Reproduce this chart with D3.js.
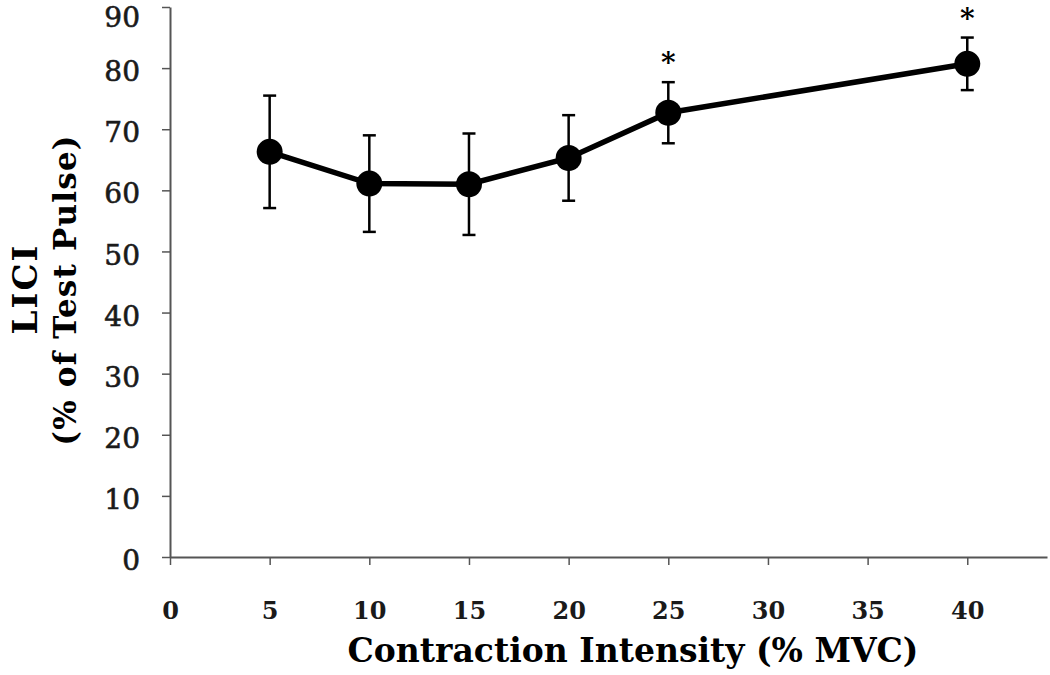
<!DOCTYPE html>
<html><head><meta charset="utf-8">
<script src="https://cdn.jsdelivr.net/npm/d3@7"></script>
<style>body{margin:0;background:#fff}</style>
</head><body>
<svg id="c" width="1050" height="675"></svg>
<script>
const intensity = [5, 10, 15, 20, 25, 40];
const lici = [66.3, 61.1, 61.0, 65.3, 72.7, 80.7];
const sem = [9.2, 7.9, 8.3, 7.0, 5.0, 4.3];
const significant = [false, false, false, false, true, true];
const xTicks = [0, 5, 10, 15, 20, 25, 30, 35, 40];
const yTicks = [0, 10, 20, 30, 40, 50, 60, 70, 80, 90];

const svg = d3.select("#c");
const x = d3.scaleLinear().domain([0, 44]).range([170, 1047]);
const y = d3.scaleLinear().domain([0, 90]).range([557, 7]);
const font = "'DejaVu Serif', serif";

// axes
const xAxis = svg.append("g").attr("transform", `translate(0,${y(0)})`)
  .call(d3.axisBottom(x).tickValues(xTicks).tickSize(8).tickSizeOuter(0).tickFormat(d3.format("d")).tickPadding(37));
const yAxis = svg.append("g").attr("transform", `translate(${x(0)},0)`)
  .call(d3.axisLeft(y).tickValues(yTicks).tickSize(8).tickSizeOuter(0).tickFormat(d3.format("d")).tickPadding(22));
[xAxis, yAxis].forEach(a => {
  a.selectAll("path.domain").attr("stroke", "#555").attr("stroke-width", 2);
  a.selectAll(".tick line").attr("stroke", "#555").attr("stroke-width", 1.5);
});
xAxis.selectAll("text").attr("font-family", font).attr("font-size", 24).attr("font-weight", "bold").attr("fill", "#1a1a1a");
yAxis.selectAll("text").attr("font-family", font).attr("font-size", 28).attr("fill", "#1a1a1a")
  .attr("stroke", "#1a1a1a").attr("stroke-width", 0.6)
  .attr("dy", d => d === 90 ? "0.7em" : "0.45em");

// error bars
const pts = intensity.map((d, i) => ({x: d, y: lici[i], e: sem[i], s: significant[i]}));
const eb = svg.append("g").attr("stroke", "#000").attr("stroke-width", 2.5);
pts.forEach(p => {
  eb.append("line").attr("x1", x(p.x)).attr("x2", x(p.x)).attr("y1", y(p.y + p.e)).attr("y2", y(p.y - p.e));
  [p.y + p.e, p.y - p.e].forEach(v => eb.append("line")
    .attr("x1", x(p.x) - 6.5).attr("x2", x(p.x) + 6.5).attr("y1", y(v)).attr("y2", y(v)));
});

// line
svg.append("path").datum(pts)
  .attr("d", d3.line().x(d => x(d.x)).y(d => y(d.y)))
  .attr("fill", "none").attr("stroke", "#000").attr("stroke-width", 5.5);

svg.append("g").selectAll("circle").data(pts).join("circle")
  .attr("cx", d => x(d.x)).attr("cy", d => y(d.y)).attr("r", 13).attr("fill", "#000");

// asterisks
svg.append("g").selectAll("text").data(pts.filter(d => d.s)).join("text")
  .attr("x", d => x(d.x)).attr("y", d => y(d.y + d.e) - 10)
  .attr("text-anchor", "middle").attr("font-family", font).attr("font-weight", "bold")
  .attr("font-size", 28).text("*");

// titles
svg.append("text").attr("x", 633).attr("y", 662).attr("text-anchor", "middle")
  .attr("font-family", font).attr("font-weight", "bold").attr("font-size", 33)
  .text("Contraction Intensity (% MVC)");
svg.append("text").attr("transform", "translate(37,289) rotate(-90)").attr("text-anchor", "middle")
  .attr("font-family", font).attr("font-weight", "bold").attr("font-size", 34)
  .attr("letter-spacing", 2).text("LICI");
svg.append("text").attr("transform", "translate(76,290) rotate(-90)").attr("text-anchor", "middle")
  .attr("font-family", font).attr("font-weight", "bold").attr("font-size", 31)
  .attr("letter-spacing", 1.2).text("(% of Test Pulse)");
</script>
</body></html>
